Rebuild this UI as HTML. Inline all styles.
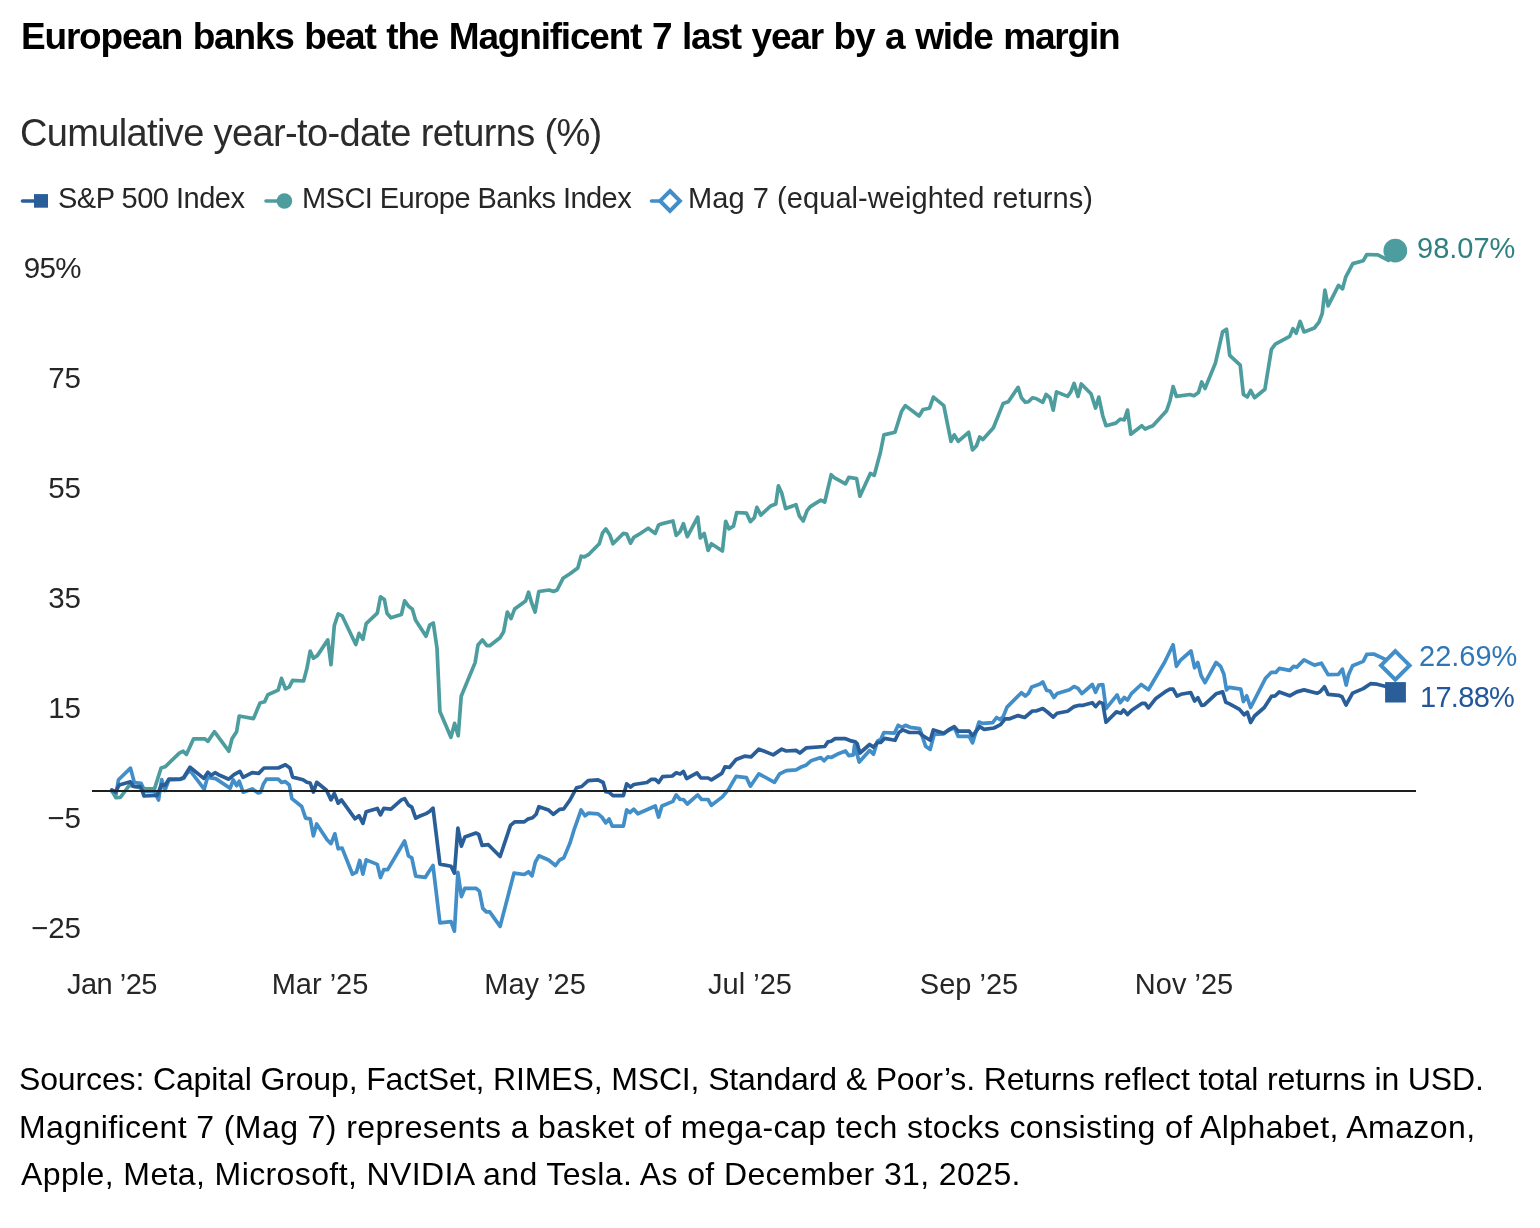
<!DOCTYPE html>
<html><head><meta charset="utf-8">
<style>
html,body{margin:0;padding:0;background:#fff;}
body{width:1540px;height:1228px;position:relative;overflow:hidden;font-family:"Liberation Sans",Arial,sans-serif;}
.t{position:absolute;white-space:nowrap;line-height:1;z-index:2;will-change:transform;}
svg{position:absolute;left:0;top:0;z-index:1;}
</style></head><body>
<svg width="1540" height="1228" viewBox="0 0 1540 1228">
<g fill="none" stroke-width="3.7" stroke-linejoin="round" stroke-linecap="round">
<polyline stroke="#418ec9" points="111.8,791.2 116,794.3 118.5,779.8 130.5,768.1 134.3,782.5 141.2,783.4 144.8,791.5 154.5,791.6 158.5,800 161.7,779.5 164.8,790.5 168.8,780 179.9,779.5 183.8,778.3 187.6,772.5 190.4,771 204.2,789.2 207.5,777.3 215.7,778.6 230.1,788.3 233.3,779.9 236.6,785.7 239.2,781.2 243.1,792.2 252.2,788.9 258.1,792.9 260.5,792.5 263.3,784.3 266.5,779.1 278.2,779.1 281.5,782.3 285.4,781.7 289.3,785 291.9,798.6 301.7,806.5 305.6,818.2 310.2,818.8 313.4,835.8 316.7,824 327.1,839.7 331,843.6 334.9,833.8 338.2,848.8 342.1,848.1 352.5,874.2 356.4,872.2 359.7,860.5 362.9,874.2 366.2,859.9 377.3,864.4 380.5,877.5 383.8,869.6 387.7,869.6 404.6,841 408.5,856 411.8,857.9 415.7,876.2 425.4,877.3 428.8,871.7 433,865.5 439.9,922.9 451,921.6 454.4,931.2 457.9,872.4 461.4,896.6 464.8,888.3 475.9,888.3 479.4,891.1 482.8,908.4 486.3,911.9 489.7,911.9 500.1,926.4 514,873.1 524.3,874.5 528.5,871.7 532,875.9 535.4,862 538.9,855.8 548.6,860 555.5,865.5 559.6,860 563.8,857.9 570,843 574,830 581.1,809.9 585,815.8 588.2,813.2 598,813.8 601.9,817.1 605.8,822.9 609.1,819 612.3,826.2 623.4,826.2 626.7,809.9 629.9,812.5 633.8,809.2 637.8,813.8 655.3,806 658.6,817.1 661.9,806 672.9,801.4 676.2,794.9 680.1,799.5 683.4,799.5 687.3,804 697.7,794.9 701.6,799.5 708.1,799.5 711.4,805.3 722.4,796.9 728.9,788.8 736.1,776.4 746.5,777.7 750.4,786.2 758.9,773.8 774.5,782.3 779.7,773.8 786.2,770.6 796,769.9 800.6,767.3 805.8,765.3 811,760.8 820.8,757.5 824,760.8 827.9,756.9 831.2,757.5 837.1,754.3 845.5,751 848.8,755.6 853.3,754.9 854.6,745.1 859.2,762.1 869.6,750.4 873.5,754.3 877.4,741.2 880.7,739.5 883.9,732.5 894.3,733.2 898.2,725.3 902.1,727.3 905.4,725.3 910,727.3 919.7,728.6 925.6,746.2 930.2,749.4 934.1,734.5 943.8,733.8 948.4,730.5 954.3,727.5 958.2,736.4 969.3,736.4 972.5,742.9 979,722.1 982.9,723.4 992.7,722.7 996.6,717.5 999.9,719.5 1003.1,716.9 1007,707.1 1021.4,692.8 1025.3,696 1028.5,693.4 1031.8,686.9 1040,684 1042.8,681.9 1046.7,690.4 1050,691 1053.9,697.5 1057.1,693.6 1069.5,689.7 1074.1,686.5 1078,688.4 1081.9,693.6 1092.3,684.5 1095.6,692.3 1098.8,685.1 1102.8,684.5 1106,708.6 1117.1,694.9 1120.3,702.7 1124.3,697.5 1127.5,700.1 1131.4,693.6 1141.2,684.5 1148.4,689.7 1164.6,662.3 1173.1,644.8 1176.4,666.3 1180.3,660.4 1191,651 1194.6,667.8 1197.8,662.5 1201.1,675.6 1205,682.7 1216.1,662.5 1220.6,666.4 1223.9,674.3 1226.5,689.9 1229.1,687.3 1240.8,689.2 1243.4,701.6 1246.7,695.8 1250.6,707.5 1265.6,678.2 1271.4,672.3 1276,672.3 1279.3,668.4 1289.7,670.4 1293.6,666.4 1296.8,667.1 1304,659.9 1314.4,665.1 1321.4,663.2 1328.1,674.6 1338.4,674.4 1342.4,669.1 1346.2,685 1348.5,674.8 1352.6,665.8 1363.2,661.4 1366.8,654.4 1373.7,654 1384.3,658.9 1395.3,665.4"/>
<polyline stroke="#4d9d9e" points="111.8,790.6 116,797.7 120.3,797.5 129.3,785.3 145.2,788.9 154.5,788.9 161.1,768 165.1,766.8 179.3,753.2 183.2,751.2 186.4,754.5 193.6,738.8 204.7,738.8 207.9,741.4 214.4,731.7 228.8,751.2 232,738.8 236.6,731.7 239.2,716 253.5,718.6 260,703 264.6,701.8 267.8,694.7 278.2,690.1 281.5,678.4 285.4,688.8 289.3,686.8 292.6,680.3 303.6,681 306.9,668.6 310.2,651 313.4,658.2 317.3,655.6 327.8,639.9 331,664.7 334.3,625.6 338.2,613.9 342.1,615.8 355.8,644.5 359,633.4 362.9,639.3 366.2,623.6 377.3,613.2 380.5,596.9 384.4,599.5 387,613.2 390.9,617.8 401.4,614.5 404.6,600.8 408.5,606.1 412.4,609.3 415.5,620 426,636.2 429.7,625.2 433.3,623 437,647.9 439.9,711.6 450.9,737.3 454.6,723.4 458.2,735.8 461.2,696.3 475.1,662.6 478,645 482.4,639.9 486.8,645.7 489.7,645.7 500,637.7 503.6,631.8 507.3,612 511,618.6 514.6,609.1 525.6,601 528.6,592.2 531.5,602.5 535.1,612 538.8,591.5 549.1,590 553.5,591.5 557.1,590 563,578.3 570,573.8 577.8,567.9 581.1,556.2 584.3,556.9 588.9,554.3 599.3,543.8 602.6,532.8 605.8,528.9 609.7,534.7 613,543.8 623.4,533.4 626.7,534.1 630.6,543.2 633.8,537.3 638.4,534.7 648.2,528.2 655.3,533.4 658.6,525 662.5,523.6 672.9,521 676.2,535.4 680.1,531.5 683.4,523.6 687.3,536.7 697.7,517.1 700.3,538 704.2,533.4 708.1,550.4 711.4,543.8 722.4,551 725.7,521.3 728.9,528.8 733.5,526.2 736.7,512.5 746.5,513.2 750.4,521.6 754.3,517.7 756.9,507.3 760.8,515.1 770.6,506 775.8,504 778.4,485.8 781.7,493 785.6,508.6 796,504.7 799.3,515.8 803.2,521 807.1,510.6 810.3,506.6 820.8,500.1 824.7,502.1 831.2,474.7 833.8,477.3 845.5,483.8 848.8,477.3 856.6,478.6 859.9,496.2 870.3,473.4 874.2,475.4 880.5,452 883.9,434.9 895,432.3 901.5,411.5 905.4,405.6 919.1,416 923,409.5 929.5,408.2 933.4,397.1 943.8,405.6 951,441.4 954.3,434.9 958.2,441.4 968.6,432.3 972.5,449.9 976.4,446 979.7,436.9 982.9,439.5 993.4,427.8 1003.1,403.6 1008.3,401.7 1018.1,387.4 1021.4,397.8 1025.3,402.3 1028.5,401.7 1032.4,397.8 1036,398.5 1042.8,402.3 1046.1,394.5 1050,397.7 1053.2,410.1 1056.5,391.9 1067.6,396.4 1070.8,391.9 1074.1,383.4 1078,396.4 1081.3,384 1091,393.8 1095.6,408.1 1098.8,397.1 1102.8,416 1106,425.7 1115.8,423.1 1120.3,419.2 1124.3,419.9 1127.5,410.1 1130.8,434.2 1141.8,425.7 1145.1,429 1149.7,427 1152.9,425.7 1166.6,410.7 1169.9,401 1173.1,386.6 1176.4,396.4 1190,394.5 1193.9,395.7 1198.5,392.4 1201.7,382 1205,388.5 1215.4,363.1 1222.6,331.9 1226.5,329.3 1229.7,355.3 1240.2,365.1 1243.4,394.4 1247.3,397 1250.6,390.5 1254.5,397.7 1264.9,389.2 1271.4,349.4 1275.3,344.2 1289.7,336.4 1292.9,328.6 1296.2,333.2 1300.1,321.4 1304,331.9 1314.4,328 1319,322.1 1322.2,313.6 1324.9,290.2 1328.1,305.8 1338.5,285.4 1342.5,288.9 1345.8,276.8 1352.8,263.6 1363.3,260.7 1366.8,254.5 1377.9,254.8 1388.4,260.4 1395.3,250.7"/>
<polyline stroke="#2a5e99" points="111.8,789.9 115.5,792 119.2,785 130.4,781.8 133.5,786.5 140.6,786.6 144.1,796 155,795.5 157.1,795.5 161.5,784.6 165,785.5 168.8,779.2 179.9,779.2 183.8,777.3 190,767.3 203.8,778.4 207.9,772.3 211.2,775.3 215.1,772.7 219.7,775.3 228.8,779.2 234,774.7 239.9,771.4 243.1,777.3 252.2,772.7 258.7,773.4 264,768 278.2,768 285.4,764.8 290,768 292.6,777.1 303,779.7 306.9,782.3 310.2,783 313.4,792.1 316.7,782.3 326.5,790.2 331,799.9 334.3,793.4 338.2,803.2 341.4,799.9 355.1,818.8 359,815.6 362.9,823.4 366.2,811.7 377.3,808.4 380.5,814.9 383.8,808.4 390.9,809.1 401.4,799.9 404.6,798.6 408.5,805.1 411.8,807.1 415.7,818.2 420,816 426.1,813.6 429.5,811.5 433,808.1 439.9,864.1 451,866.2 454.4,873.1 457.9,828.1 461.4,846.1 464.8,837.1 475.9,833 478.7,834.4 482.1,845.4 488.4,844.7 500.1,856.5 510.5,825.4 514.7,821.9 524.3,821.9 527.8,819.1 532.6,817.8 536.1,814.3 538.9,806.7 548.6,810.1 553.4,814.3 559.6,809.4 563.8,808.8 570,800 576.5,787.8 581.7,786.5 588.2,780.6 598,779.9 603.2,782.5 605.8,791.7 609.1,792.3 613,795.6 623.4,795.6 626.7,783.8 630.6,787.1 633.8,784.5 646.9,782.5 651.4,779.3 655.3,779.3 658.6,782.5 662.5,776.7 672.3,776 676.2,772.8 680.1,774.1 683.4,771.5 686.6,778.6 697,772.8 700.9,778 708.1,778 711.4,779.9 721.8,773.4 725,766.9 729.6,767.3 736.1,759.5 744.5,756.2 751.1,756.9 758.9,749.1 773.2,754.9 781.7,749.1 786.2,751 796,750.4 799.9,753 806.4,747.8 824.7,746.5 827.9,741.9 831.2,741.2 835.1,738.6 844.9,738.6 850.1,740.6 855.3,741.9 857.2,743.8 859.9,753 869.6,744.5 873.5,747.1 877.4,742.5 880.7,742.5 884.6,738.4 895,740.3 898.9,732.5 902.8,729.9 909.3,732.5 919.1,732.5 923,735.8 930.2,740.3 933.4,729.9 943.8,733.2 948.4,729.9 954.3,726.6 958.2,731.2 969.3,731.2 972.5,735.8 979.7,726.6 984.2,729.3 994,728 1000.5,724.7 1005.1,718.8 1009.6,718.8 1018.1,715.6 1024.6,717.5 1032.4,711 1036,711 1042.8,708.6 1048,712.5 1053.2,717.1 1057.1,713.2 1067.6,711.2 1074.1,706.6 1079.3,705.3 1083.2,705.3 1092.3,702.7 1095.6,706.6 1099.5,702.1 1102.8,703.4 1106,722.3 1116.4,711.9 1121,713.2 1123.6,709.9 1127.5,714.5 1131.4,710.6 1141.8,703.4 1145.1,703.4 1148.4,707.9 1155.5,698.8 1165.3,691.7 1169.9,689.1 1173.1,689.1 1177,696.2 1180.9,694.3 1190.7,692.5 1194.6,701 1197.8,697.7 1201.7,705.5 1204.3,704.9 1216.1,693.8 1222.6,691.9 1225.8,702.3 1229.1,703.6 1239.5,709.4 1244.1,714.7 1247.3,712.1 1250.6,722.5 1254.5,716 1264.3,707.5 1271.4,696.4 1275.3,695.8 1279.3,691.9 1289.7,695.8 1296.8,691.9 1304,689.9 1317,693.2 1320,691.9 1324.5,686.8 1328.1,694.4 1338.5,695.3 1342,696.8 1346,705 1352.6,693.1 1363.2,688.6 1370.5,683.7 1377,684.2 1385.1,686.2 1395.5,692.3"/>
</g>
<line x1="92" y1="791" x2="1416" y2="791" stroke="#1e1e1e" stroke-width="1.8"/>
<circle cx="1395.3" cy="250.7" r="11.9" fill="#4d9d9e"/>
<rect x="1385.1" y="682.1" width="20.8" height="20.4" fill="#2a5e99"/>
<path d="M1395.3 651.1 L1409.6 665.4 L1395.3 679.7 L1381 665.4 Z" fill="#fff" stroke="#418ec9" stroke-width="4"/>
<g stroke-linecap="round">
<line x1="22.5" y1="201" x2="36" y2="201" stroke="#2a5e99" stroke-width="3.6"/>
<rect x="34" y="194.1" width="14" height="13.6" fill="#2a5e99"/>
<line x1="266" y1="201" x2="282" y2="201" stroke="#4d9d9e" stroke-width="3.6"/>
<circle cx="284.4" cy="201" r="7.8" fill="#4d9d9e"/>
<line x1="651.5" y1="201" x2="660" y2="201" stroke="#418ec9" stroke-width="3.6"/>
</g>
<path d="M670 191 L679.9 200.9 L670 210.8 L660.1 200.9 Z" fill="#fff" stroke="#418ec9" stroke-width="4"/>
</svg>
<div class="t" id="title" style="left:20.5px;top:17.8px;font-size:37px;letter-spacing:-1.2px;color:#000;font-weight:bold;word-spacing:1.6px;">European banks beat the Magnificent 7 last year by a wide margin</div>
<div class="t" id="sub" style="left:20px;top:113.6px;font-size:38px;letter-spacing:-0.64px;color:#2b2b2b;">Cumulative year-to-date returns (%)</div>
<div class="t" id="lg1" style="left:58px;top:184.2px;font-size:29px;letter-spacing:-0.5px;color:#262626;">S&amp;P 500 Index</div>
<div class="t" id="lg2" style="left:301.5px;top:184.2px;font-size:29px;letter-spacing:-0.55px;color:#262626;">MSCI Europe Banks Index</div>
<div class="t" id="lg3" style="left:687.5px;top:184.2px;font-size:29px;letter-spacing:0.07px;color:#262626;">Mag 7 (equal-weighted returns)</div>
<div class="t" id="y95" style="left:-218.7px;width:300px;text-align:right;top:252.8px;font-size:29.5px;letter-spacing:-0.6px;color:#262626;">95%</div>
<div class="t" id="y75" style="left:-218.7px;width:300px;text-align:right;top:362.8px;font-size:29.5px;letter-spacing:0px;color:#262626;">75</div>
<div class="t" id="y55" style="left:-218.7px;width:300px;text-align:right;top:472.8px;font-size:29.5px;letter-spacing:0px;color:#262626;">55</div>
<div class="t" id="y35" style="left:-218.7px;width:300px;text-align:right;top:582.8px;font-size:29.5px;letter-spacing:0px;color:#262626;">35</div>
<div class="t" id="y15" style="left:-218.7px;width:300px;text-align:right;top:692.8px;font-size:29.5px;letter-spacing:0px;color:#262626;">15</div>
<div class="t" id="ym5" style="left:-218.7px;width:300px;text-align:right;top:802.8px;font-size:29.5px;letter-spacing:0px;color:#262626;">&minus;5</div>
<div class="t" id="ym25" style="left:-218.7px;width:300px;text-align:right;top:912.8px;font-size:29.5px;letter-spacing:0px;color:#262626;">&minus;25</div>
<div class="t" id="x1" style="left:-37.7px;width:300px;text-align:center;top:970px;font-size:29px;letter-spacing:-0.5px;color:#262626;">Jan &rsquo;25</div>
<div class="t" id="x2" style="left:170.39999999999998px;width:300px;text-align:center;top:970px;font-size:29px;letter-spacing:0px;color:#262626;">Mar &rsquo;25</div>
<div class="t" id="x3" style="left:385.4px;width:300px;text-align:center;top:970px;font-size:29px;letter-spacing:0px;color:#262626;">May &rsquo;25</div>
<div class="t" id="x4" style="left:600.3px;width:300px;text-align:center;top:970px;font-size:29px;letter-spacing:0px;color:#262626;">Jul &rsquo;25</div>
<div class="t" id="x5" style="left:818.6px;width:300px;text-align:center;top:970px;font-size:29px;letter-spacing:0px;color:#262626;">Sep &rsquo;25</div>
<div class="t" id="x6" style="left:1033.6px;width:300px;text-align:center;top:970px;font-size:29px;letter-spacing:0px;color:#262626;">Nov &rsquo;25</div>
<div class="t" id="e1" style="left:1417px;top:234px;font-size:29px;letter-spacing:0px;color:#2f8080;">98.07%</div>
<div class="t" id="e2" style="left:1419px;top:641.8px;font-size:29px;letter-spacing:0px;color:#2f76b6;">22.69%</div>
<div class="t" id="e3" style="left:1419.6px;top:682.5px;font-size:29px;letter-spacing:-0.7px;color:#23569a;">17.88%</div>
<div class="t" id="f1" style="left:19px;top:1062.8px;font-size:32px;letter-spacing:-0.135px;color:#000;">Sources: Capital Group, FactSet, RIMES, MSCI, Standard &amp; Poor&rsquo;s. Returns reflect total returns in USD.</div>
<div class="t" id="f2" style="left:19px;top:1110.6px;font-size:32px;letter-spacing:0.4px;color:#000;">Magnificent 7 (Mag 7) represents a basket of mega-cap tech stocks consisting of Alphabet, Amazon,</div>
<div class="t" id="f3" style="left:21px;top:1158.4px;font-size:32px;letter-spacing:0.39px;color:#000;">Apple, Meta, Microsoft, NVIDIA and Tesla. As of December 31, 2025.</div>
</body></html>
